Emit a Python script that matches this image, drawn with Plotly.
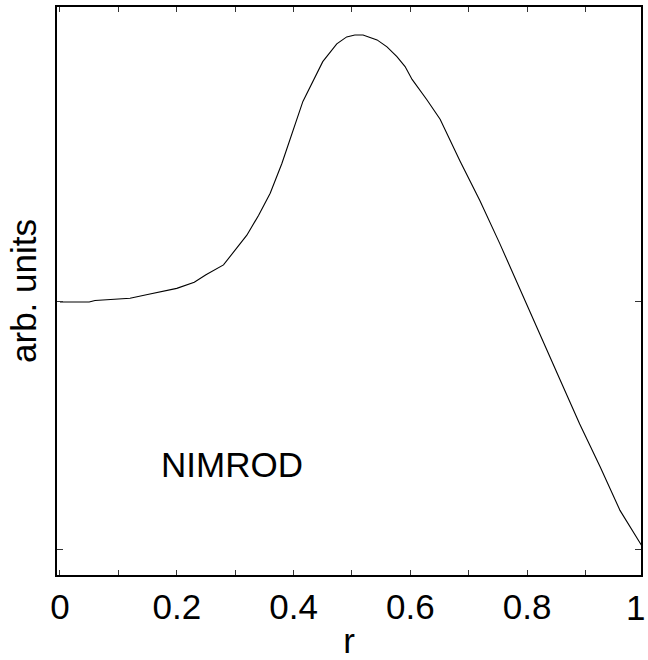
import plotly.graph_objects as go

r_vals = [0.0, 0.05, 0.06, 0.10, 0.12, 0.15, 0.20, 0.23, 0.25, 0.28, 0.30, 0.32,
          0.34, 0.36, 0.38, 0.40, 0.416, 0.450, 0.474, 0.491, 0.505, 0.519,
          0.543, 0.560, 0.577, 0.591, 0.603, 0.628, 0.651, 0.685, 0.719,
          0.753, 0.788, 0.822, 0.856, 0.890, 0.925, 0.959, 1.0]
amp_vals = [1.0, 1.0, 1.006, 1.01, 1.015, 1.03, 1.055, 1.08, 1.11, 1.15, 1.21, 1.27,
            1.35, 1.44, 1.56, 1.70, 1.811, 1.972, 2.044, 2.072, 2.080, 2.080,
            2.060, 2.032, 1.992, 1.952, 1.900, 1.819, 1.739, 1.570, 1.41,
            1.237, 1.048, 0.867, 0.687, 0.506, 0.333, 0.157, 0.0]

x_ticks = [0, 0.2, 0.4, 0.6, 0.8]
x_tick_text = ["0", "0.2", "0.4", "0.6", "0.8"]
last_tick_text = "1"
label_text = "NIMROD"

FONT = "Liberation Sans, Arial, sans-serif"

fig = go.Figure()
fig.add_trace(go.Scatter(x=r_vals, y=amp_vals, mode="lines",
                         line=dict(color="black", width=1.1),
                         showlegend=False, hoverinfo="skip"))

fig.add_annotation(x=0.2945, y=0.341, xref="x", yref="y", text=label_text,
                   showarrow=False, font=dict(family=FONT, size=35, color="black"))
# tick label for r = 1 (sits at the right edge of the frame)
fig.add_annotation(x=1.0, y=0, xref="paper", yref="paper", text=last_tick_text,
                   xanchor="right", yanchor="top", xshift=6, yshift=-11,
                   showarrow=False,
                   font=dict(family=FONT, size=35, color="black"))

fig.update_layout(
    width=648, height=660,
    margin=dict(l=57, r=7, t=5, b=83),
    paper_bgcolor="white", plot_bgcolor="white",
    font=dict(family=FONT, size=35, color="black"),
    xaxis=dict(range=[-0.0051, 0.995], tickvals=x_ticks, ticktext=x_tick_text,
               ticks="inside", ticklen=5, tickcolor="#333", tickwidth=1,
               minor=dict(dtick=0.1, ticks="inside", ticklen=5, tickcolor="#333"),
               showline=True, linecolor="black", linewidth=2, mirror="ticks",
               showgrid=False, zeroline=False,
               title=dict(text="r", font=dict(size=35), standoff=4)),
    yaxis=dict(range=[-0.1044, 2.193], tickvals=[0, 1], showticklabels=False,
               ticks="inside", ticklen=6, tickcolor="#333", tickwidth=1,
               showline=True, linecolor="black", linewidth=2, mirror="ticks",
               showgrid=False, zeroline=False,
               title=dict(text="arb. units", font=dict(size=35), standoff=8)),
)

fig.write_html("out.html")
